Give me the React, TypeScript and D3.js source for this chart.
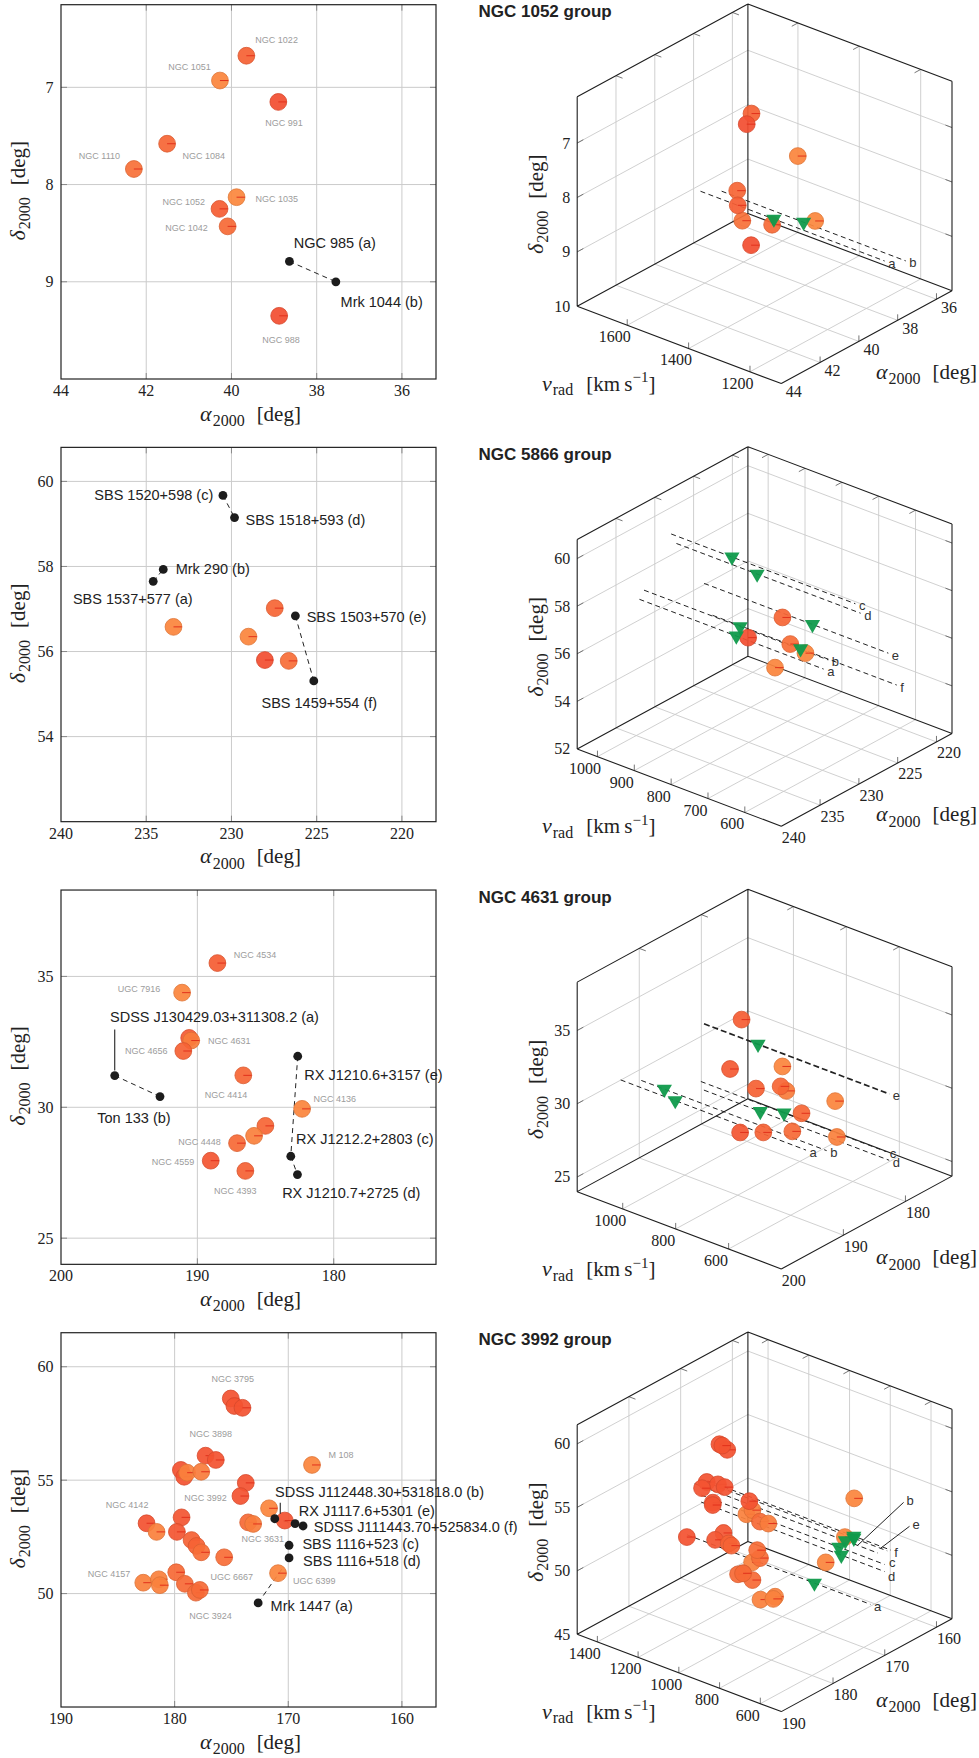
import React from "react";
import * as d3 from "d3";

const SANS = "'Liberation Sans', Arial, Helvetica, sans-serif";
const SERIF = "'Liberation Serif', 'Times New Roman', serif";

// ---------- NGC 1052 group ----------
// name, ra [deg], dec [deg], v_rad [km/s], tone (0 red .. 1 orange)
const g1052Galaxies: [string, number, number, number, number][] = [
  ["NGC 1022", 39.65, 6.675, 1470, 0.35],
  ["NGC 1051", 40.27, 6.93, 1280, 0.8],
  ["NGC 991", 38.9, 7.15, 1533, 0.1],
  ["NGC 1084", 41.51, 7.58, 1399, 0.4],
  ["NGC 1110", 42.29, 7.84, 1333, 0.55],
  ["NGC 1035", 39.88, 8.13, 1248, 0.85],
  ["NGC 1052", 40.28, 8.25, 1475, 0.3],
  ["NGC 1042", 40.09, 8.43, 1375, 0.45],
  ["NGC 988", 38.88, 9.35, 1520, 0.1],
];
// label, key, ra, dec, v_rad
const g1052Dwarfs: [string, string, number, number, number][] = [
  ["NGC 985 (a)", "a", 38.64, 8.79, 1461],
  ["Mrk 1044 (b)", "b", 37.55, 9.0, 1433],
];
const g1052Links = [["a", "b"]];
const g1052RaTicks = [44, 42, 40, 38, 36];
const g1052DecTicks = [7, 8, 9];
const g1052DecTicks3 = [7, 8, 9, 10];
const g1052VTicks = [1600, 1400, 1200];

// ---------- NGC 5866 group ----------
const g5866Galaxies: [string, number, number, number, number][] = [
  ["", 233.4, 56.58, 657, 0.8],
  ["", 227.46, 57.02, 762, 0.4],
  ["", 229.0, 56.35, 667, 0.8],
  ["", 228.04, 55.8, 843, 0.1],
  ["", 226.64, 55.78, 758, 0.5],
];
const g5866Dwarfs: [string, string, number, number, number][] = [
  ["SBS 1537+577 (a)", "a", 234.59, 57.65, 737],
  ["Mrk 290 (b)", "b", 234.0, 57.93, 739],
  ["SBS 1520+598 (c)", "c", 230.5, 59.67, 835],
  ["SBS 1518+593 (d)", "d", 229.82, 59.15, 781],
  ["SBS 1503+570 (e)", "e", 226.25, 56.84, 706],
  ["SBS 1459+554 (f)", "f", 225.17, 55.31, 761],
];
const g5866Links = [["a", "b"], ["c", "d"], ["e", "f"]];
const g5866RaTicks = [240, 235, 230, 225, 220];
const g5866DecTicks = [54, 56, 58, 60];
const g5866DecTicks3 = [52, 54, 56, 58, 60];
const g5866VTicks = [1000, 900, 800, 700, 600];

// ---------- NGC 4631 group ----------
const g4631Galaxies: [string, number, number, number, number][] = [
  ["NGC 4534", 188.53, 35.51, 820, 0.3],
  ["UGC 7916", 191.12, 34.38, 605, 0.8],
  ["", 190.6, 32.65, 815, 0.25],
  ["NGC 4631", 190.45, 32.55, 606, 0.7],
  ["NGC 4656", 191.03, 32.15, 707, 0.35],
  ["NGC 4414", 186.63, 31.22, 717, 0.4],
  ["NGC 4136", 182.32, 29.94, 612, 0.8],
  ["", 185.01, 29.29, 676, 0.4],
  ["", 185.84, 28.91, 523, 0.75],
  ["NGC 4448", 187.09, 28.63, 662, 0.45],
  ["NGC 4559", 189.02, 27.96, 814, 0.2],
  ["NGC 4393", 186.48, 27.57, 786, 0.35],
];
const g4631Dwarfs: [string, string, number, number, number][] = [
  ["SDSS J130429.03+311308.2 (a)", "a", 196.06, 31.21, 894],
  ["Ton 133 (b)", "b", 192.74, 30.41, 1013],
  ["RX J1212.2+2803 (c)", "c", 183.15, 28.13, 786],
  ["RX J1210.7+2725 (d)", "d", 182.66, 27.43, 887],
  ["RX J1210.6+3157 (e)", "e", 182.64, 31.95, 896],
];
const g4631Links = [["a", "b"], ["e", "c"], ["c", "d"]];
const g4631RaTicks = [200, 190, 180];
const g4631DecTicks = [25, 30, 35];
const g4631DecTicks3 = [25, 30, 35];
const g4631VTicks = [1000, 800, 600];

// ---------- NGC 3992 group ----------
const g3992Galaxies: [string, number, number, number, number][] = [
  ["NGC 3795", 175.06, 58.6, 1180, 0.15],
  ["", 174.74, 58.27, 1150, 0.15],
  ["", 174.03, 58.19, 1192, 0.15],
  ["NGC 3898", 177.28, 56.08, 1186, 0.15],
  ["", 176.38, 55.89, 1154, 0.15],
  ["", 179.45, 55.45, 1101, 0.15],
  ["", 179.16, 55.15, 1109, 0.15],
  ["", 178.9, 55.33, 950, 0.75],
  ["", 177.66, 55.37, 952, 0.7],
  ["", 173.74, 54.88, 1188, 0.15],
  ["", 174.21, 54.3, 1287, 0.15],
  ["M 108", 167.91, 55.67, 700, 0.8],
  ["", 171.69, 53.76, 650, 0.8],
  ["NGC 3631", 170.31, 53.22, 1154, 0.15],
  ["", 173.53, 53.14, 1020, 0.45],
  ["", 173.09, 53.07, 990, 0.7],
  ["NGC 4142", 182.47, 53.1, 1152, 0.15],
  ["", 181.59, 52.72, 854, 0.75],
  ["NGC 3992", 179.39, 53.36, 1050, 0.2],
  ["", 179.8, 52.72, 1081, 0.2],
  ["", 178.51, 52.36, 1047, 0.35],
  ["", 178.07, 52.1, 1045, 0.35],
  ["", 177.66, 51.82, 915, 0.5],
  ["UGC 6667", 175.64, 51.6, 980, 0.5],
  ["NGC 4157", 182.76, 50.48, 783, 0.75],
  ["", 181.39, 50.63, 746, 0.75],
  ["", 181.3, 50.37, 757, 0.75],
  ["", 179.86, 50.94, 942, 0.45],
  ["", 179.1, 50.43, 986, 0.45],
  ["NGC 3924", 178.13, 50.04, 940, 0.45],
  ["", 177.78, 50.16, 995, 0.45],
  ["UGC 6399", 170.9, 50.9, 764, 0.8],
];
const g3992Dwarfs: [string, string, number, number, number][] = [
  ["Mrk 1447 (a)", "a", 172.65, 49.59, 775],
  ["SDSS J112448.30+531818.0 (b)", "b", 171.19, 53.3, 660],
  ["SBS 1116+523 (c)", "c", 169.93, 52.13, 724],
  ["SBS 1116+518 (d)", "d", 169.93, 51.57, 712],
  ["RX J1117.6+5301 (e)", "e", 169.4, 53.08, 664],
  ["SDSS J111443.70+525834.0 (f)", "f", 168.7, 52.98, 682],
];
const g3992Links = [["b", "e"], ["e", "f"]];
const g3992ExtraLink: [string, number, number] = ["a", 170.4, 51.2];
const g3992RaTicks = [190, 180, 170, 160];
const g3992DecTicks = [50, 55, 60];
const g3992DecTicks3 = [45, 50, 55, 60];
const g3992VTicks = [1400, 1200, 1000, 800, 600];

// ---------- label placement (pixel offsets from the marker) ----------
const grayPos1052: Record<string, number[]> = {
  "NGC 1022": [9, -13], "NGC 1051": [-51.7, -11], "NGC 991": [-13, 24],
  "NGC 1084": [15.4, 15.4], "NGC 1110": [-55, -10], "NGC 1035": [19, 4.7],
  "NGC 1052": [-57, -4.3], "NGC 1042": [-62.4, 5], "NGC 988": [-17, 26.7],
};
const grayPos4631: Record<string, number[]> = {
  "NGC 4534": [16.4, -5.3], "UGC 7916": [-64.3, -0.4], "NGC 4631": [16.7, 3.3],
  "NGC 4656": [-58.3, 3.3], "NGC 4414": [-38.6, 22.4], "NGC 4136": [11.3, -6.7],
  "NGC 4448": [-58.7, 2], "NGC 4559": [-59, 4], "NGC 4393": [-31.3, 23.3],
};
const grayPos3992: Record<string, number[]> = {
  "NGC 3795": [-19.3, -16], "NGC 3898": [-16, -18.4], "M 108": [16.4, -6.7],
  "NGC 3992": [2.6, -16], "NGC 4142": [-40.7, -15], "NGC 3631": [-43.3, 21],
  "UGC 6667": [-13.6, 23], "NGC 4157": [-55.6, -6], "UGC 6399": [15, 11],
  "NGC 3924": [-6.7, 26.6],
};
// dx, dy, anchor, optional vertical leader [from dy, to dy, x shift]
const dwarfPos1052: Record<string, any[]> = { a: [4.3, -13, "start"], b: [4.7, 25.7, "start"] };
const dwarfPos5866: Record<string, any[]> = {
  a: [39.4, 23, "end"], b: [12.4, 5, "start"], c: [-9.7, 5, "end"],
  d: [11, 7.7, "start"], e: [11.3, 6, "start"], f: [-52.3, 27.3, "start"],
};
const dwarfPos4631: Record<string, any[]> = {
  a: [-4.7, -54, "start", [-5, -46, 0]], b: [-62.7, 26, "start"], c: [5.3, -12.3, "start"],
  d: [-15.3, 23.6, "start"], e: [6.6, 23.7, "start"],
};
const dwarfPos3992: Record<string, any[]> = {
  a: [12.4, 7.7, "start"], b: [0.3, -21.4, "start", [-5, -16, 5.5]], c: [13.4, 3.7, "start"],
  d: [14, 7.7, "start"], e: [3.7, -8, "start"], f: [10.7, 6.3, "start"],
};
const leaders3992: Record<string, number[]> = { b: [600, 46, -43], e: [533, 29, -22] };
const lineLabNudge3992: Record<string, number[]> = { c: [1, -4], d: [0, 3] };

const groups = [
  {
    title: "NGC 1052 group", ra: [44, 35.2], dec: [10, 6.15], v: [1763, 1098], lineV: [1700, 1100],
    raTicks: g1052RaTicks, decTicks: g1052DecTicks, decTicks3: g1052DecTicks3, vTicks: g1052VTicks,
    galaxies: g1052Galaxies, dwarfs: g1052Dwarfs, links: g1052Links, gray: grayPos1052,
    dpos: dwarfPos1052, aLabDy: 13.5, leaders: {} as Record<string, number[]>, extra: null as any,
    bold: [] as string[], nudge: {} as Record<string, number[]>,
  },
  {
    title: "NGC 5866 group", ra: [240, 218], dec: [52, 60.8], v: [1055, 501], lineV: [1000, 500],
    raTicks: g5866RaTicks, decTicks: g5866DecTicks, decTicks3: g5866DecTicks3, vTicks: g5866VTicks,
    galaxies: g5866Galaxies, dwarfs: g5866Dwarfs, links: g5866Links, gray: {} as Record<string, number[]>,
    dpos: dwarfPos5866, aLabDy: 16.5, leaders: {} as Record<string, number[]>, extra: null as any,
    bold: [] as string[], nudge: {} as Record<string, number[]>,
  },
  {
    title: "NGC 4631 group", ra: [200, 172.5], dec: [24, 38.3], v: [1172, 401], lineV: [1100, 400],
    raTicks: g4631RaTicks, decTicks: g4631DecTicks, decTicks3: g4631DecTicks3, vTicks: g4631VTicks,
    galaxies: g4631Galaxies, dwarfs: g4631Dwarfs, links: g4631Links, gray: grayPos4631,
    dpos: dwarfPos4631, aLabDy: 17, leaders: {} as Record<string, number[]>, extra: null as any,
    bold: ["e"], nudge: {} as Record<string, number[]>,
  },
  {
    title: "NGC 3992 group", ra: [190, 157], dec: [45, 61.5], v: [1499, 497], lineV: [1400, 500],
    raTicks: g3992RaTicks, decTicks: g3992DecTicks, decTicks3: g3992DecTicks3, vTicks: g3992VTicks,
    galaxies: g3992Galaxies, dwarfs: g3992Dwarfs, links: g3992Links, gray: grayPos3992,
    dpos: dwarfPos3992, aLabDy: 17, leaders: leaders3992, extra: g3992ExtraLink,
    bold: [] as string[], nudge: lineLabNudge3992,
  },
];

const ROW_PITCH = 442.67;
const TOP0 = 4.7;
const PL = 61, PR = 436, PH = 374.3;
const BX = 577.2, BDY = 301.6;
const RX = 204.1, RY = 77.3, AX = 170.7, AY = -92.8, DY = -209.5;
const RAD = 8.4;
const GRID = "#cbcbcb";
const tone = d3.scaleLinear<string>().domain([0, 1]).range(["#f1472f", "#fd9441"]).interpolate(d3.interpolateRgb);

const seg = (p: number[], q: number[]) => `M${p[0]},${p[1]}L${q[0]},${q[1]}`;

function Galaxy({ x, y, t }: { x: number; y: number; t: number }) {
  const fill = tone(t);
  return (
    <g>
      <circle cx={x} cy={y} r={RAD} fill={fill} fillOpacity={0.93} stroke={d3.color(fill)!.darker(0.35).toString()} strokeWidth={0.8} />
      <line x1={x} y1={y} x2={x + RAD} y2={y} stroke="#e2311c" strokeWidth={1} />
    </g>
  );
}

function DegLabel({ sym, x, y, rot, anchor = "middle" }: any) {
  return (
    <text x={x} y={y} textAnchor={anchor} fontFamily={SERIF} fontSize={21} fill="#222"
      transform={rot ? `rotate(-90 ${x} ${y})` : undefined}>
      <tspan fontStyle="italic" fontSize={22}>{sym}</tspan>
      <tspan fontSize={16} dy={5.5} dx={1}>2000</tspan>
      <tspan dy={-5.5} dx={12}>[deg]</tspan>
    </text>
  );
}

function Panel2D({ g, T }: any) {
  const x = d3.scaleLinear().domain(g.ra).range([PL, PR]);
  const y = d3.scaleLinear().domain(g.dec).range([T + PH, T]);
  const B = T + PH;
  const byKey: Record<string, any> = {};
  g.dwarfs.forEach((d: any) => (byKey[d[1]] = d));
  const xt = g.raTicks.filter((t: number) => x(t) > PL + 1 && x(t) < PR - 1);
  return (
    <g>
      {g.raTicks.map((t: number) => (
        <text key={"xl" + t} x={x(t)} y={B + 17} textAnchor="middle" fontFamily={SERIF} fontSize={16} fill="#222">{t}</text>
      ))}
      {g.decTicks.map((t: number) => (
        <text key={"yl" + t} x={PL - 7.5} y={y(t) + 5.5} textAnchor="end" fontFamily={SERIF} fontSize={16} fill="#222">{t}</text>
      ))}
      {xt.map((t: number) => (
        <g key={"xg" + t}>
          <line x1={x(t)} x2={x(t)} y1={T} y2={B} stroke={GRID} strokeWidth={1} />
          <line x1={x(t)} x2={x(t)} y1={B} y2={B - 6} stroke="#888" strokeWidth={1} />
          <line x1={x(t)} x2={x(t)} y1={T} y2={T + 6} stroke="#888" strokeWidth={1} />
        </g>
      ))}
      {g.decTicks.map((t: number) => (
        <g key={"yg" + t}>
          <line x1={PL} x2={PR} y1={y(t)} y2={y(t)} stroke={GRID} strokeWidth={1} />
          <line x1={PL} x2={PL + 6} y1={y(t)} y2={y(t)} stroke="#888" strokeWidth={1} />
          <line x1={PR} x2={PR - 6} y1={y(t)} y2={y(t)} stroke="#888" strokeWidth={1} />
        </g>
      ))}
      <rect x={PL} y={T} width={PR - PL} height={PH} fill="none" stroke="#222" strokeWidth={1.2} />
      <DegLabel sym="α" x={(PL + PR) / 2 + 2} y={B + 41.5} />
      <DegLabel sym="δ" x={25} y={T + 186} rot />
      {g.links.map(([a, b]: string[]) => (
        <line key={"lk" + a + b} x1={x(byKey[a][2])} y1={y(byKey[a][3])} x2={x(byKey[b][2])} y2={y(byKey[b][3])}
          stroke="#222" strokeWidth={1} strokeDasharray="5,4" />
      ))}
      {g.extra && (
        <line x1={x(byKey[g.extra[0]][2])} y1={y(byKey[g.extra[0]][3])} x2={x(g.extra[1])} y2={y(g.extra[2])}
          stroke="#222" strokeWidth={1} strokeDasharray="5,4" />
      )}
      {g.galaxies.map((d: any, i: number) => (
        <Galaxy key={"g" + i} x={x(d[1])} y={y(d[2])} t={d[4]} />
      ))}
      {g.galaxies.filter((d: any) => g.gray[d[0]]).map((d: any) => (
        <text key={"gl" + d[0]} x={x(d[1]) + g.gray[d[0]][0]} y={y(d[2]) + g.gray[d[0]][1]} fontFamily={SANS} fontSize={9} fill="#9c9c9c">{d[0]}</text>
      ))}
      {g.dwarfs.map((d: any) => {
        const px = x(d[2]), py = y(d[3]);
        const p = g.dpos[d[1]];
        return (
          <g key={"dw" + d[1]}>
            {p[3] && <line x1={px + p[3][2]} x2={px + p[3][2]} y1={py + p[3][0]} y2={py + p[3][1]} stroke="#222" strokeWidth={1.1} />}
            <circle cx={px} cy={py} r={4.4} fill="#1c1c1c" />
            <text x={px + p[0]} y={py + p[1]} textAnchor={p[2]} fontFamily={SANS} fontSize={14.5} fill="#222">{d[0]}</text>
          </g>
        );
      })}
    </g>
  );
}

function Panel3D({ g, T }: any) {
  const ua = d3.scaleLinear().domain(g.ra).range([0, 1]);
  const uv = d3.scaleLinear().domain(g.v).range([0, 1]);
  const ud = d3.scaleLinear().domain(g.dec).range([0, 1]);
  const oy = T + BDY;
  const Q = (a: number, v: number, d: number) => [BX + v * RX + a * AX, oy + v * RY + a * AY + d * DY];
  const P = (ra: number, dec: number, vel: number) => Q(ua(ra), uv(vel), ud(dec));
  const aL = Math.hypot(AX, AY), rL = Math.hypot(RX, RY);
  const an = [AX / aL, AY / aL], rn = [RX / rL, RY / rL];
  const mv = (p: number[], dx: number, dy: number) => [p[0] + dx, p[1] + dy];

  const aT = g.raTicks.map((t: number) => ua(t)).filter((u: number) => u > 0.01 && u < 0.99);
  const vT = g.vTicks.map((t: number) => uv(t)).filter((u: number) => u > 0.01 && u < 0.99);
  const dT = g.decTicks3.map((t: number) => ud(t)).filter((u: number) => u > 0.01 && u < 0.99);

  let grid = "";
  aT.forEach((a: number) => { grid += seg(Q(a, 0, 0), Q(a, 0, 1)) + seg(Q(a, 0, 0), Q(a, 1, 0)); });
  vT.forEach((v: number) => { grid += seg(Q(1, v, 0), Q(1, v, 1)) + seg(Q(0, v, 0), Q(1, v, 0)); });
  dT.forEach((d: number) => { grid += seg(Q(0, 0, d), Q(1, 0, d)) + seg(Q(1, 0, d), Q(1, 1, d)); });

  let ticks = "";
  aT.forEach((a: number) => {
    ticks += seg(Q(a, 1, 0), mv(Q(a, 1, 0), 0, -6));
    ticks += seg(Q(a, 0, 1), mv(Q(a, 0, 1), rn[0] * 7, rn[1] * 7));
  });
  vT.forEach((v: number) => {
    ticks += seg(Q(0, v, 0), mv(Q(0, v, 0), 0, -6));
    ticks += seg(Q(1, v, 1), mv(Q(1, v, 1), -an[0] * 7, -an[1] * 7));
  });
  dT.forEach((d: number) => {
    ticks += seg(Q(0, 0, d), mv(Q(0, 0, d), an[0] * 7, an[1] * 7));
    ticks += seg(Q(1, 1, d), mv(Q(1, 1, d), -rn[0] * 7, -rn[1] * 7));
  });

  const box =
    seg(Q(0, 0, 0), Q(0, 0, 1)) + seg(Q(0, 0, 1), Q(1, 0, 1)) + seg(Q(1, 0, 1), Q(1, 1, 1)) +
    seg(Q(1, 1, 1), Q(1, 1, 0)) + seg(Q(1, 0, 0), Q(1, 0, 1)) + seg(Q(0, 0, 0), Q(0, 1, 0)) +
    seg(Q(0, 1, 0), Q(1, 1, 0)) + seg(Q(0, 0, 0), Q(1, 0, 0)) + seg(Q(1, 0, 0), Q(1, 1, 0));

  const tri = d3.symbol(d3.symbolTriangle, 100)()!;

  return (
    <g>
      <text x={478.5} y={T + 12.5} fontFamily={SANS} fontWeight="bold" fontSize={17} fill="#222">{g.title}</text>
      <path d={grid} stroke={GRID} strokeWidth={0.9} fill="none" />
      <path d={ticks} stroke="#666" strokeWidth={0.9} fill="none" />
      <path d={box} stroke="#1e1e1e" strokeWidth={1.1} fill="none" />
      {g.decTicks3.map((t: number) => {
        const p = Q(0, 0, ud(t));
        return <text key={"dl" + t} x={p[0] - 7} y={p[1] + 5.5} textAnchor="end" fontFamily={SERIF} fontSize={16} fill="#222">{t}</text>;
      })}
      {g.vTicks.map((t: number) => {
        const p = Q(0, uv(t), 0);
        return <text key={"vl" + t} x={p[0] - 12.5} y={p[1] + 17} textAnchor="middle" fontFamily={SERIF} fontSize={16} fill="#222">{t}</text>;
      })}
      {g.raTicks.map((t: number) => {
        const p = Q(ua(t), 1, 0);
        return <text key={"al" + t} x={p[0] + 12.5} y={p[1] + g.aLabDy} textAnchor="middle" fontFamily={SERIF} fontSize={16} fill="#222">{t}</text>;
      })}
      <DegLabel sym="δ" x={543} y={T + 199.5} rot />
      <DegLabel sym="α" x={876} y={T + 374} anchor="start" />
      <text x={542} y={T + 386} fontFamily={SERIF} fontSize={21} fill="#222">
        <tspan fontStyle="italic" fontSize={22}>v</tspan>
        <tspan fontSize={16} dy={4.5} dx={1}>rad</tspan>
        <tspan dy={-4.5} dx={13}>[km{"\u2009"}s</tspan>
        <tspan fontSize={15} dy={-8.5}>{"\u2212"}1</tspan>
        <tspan dy={8.5}>]</tspan>
      </text>
      {g.dwarfs.map((d: any) => {
        const p0 = P(d[2], d[3], g.lineV[0]);
        const p1 = P(d[2], d[3], g.lineV[1]);
        const ld = g.leaders[d[1]];
        const nu = g.nudge[d[1]] || [0, 0];
        let lab = [p1[0] + 3.5 + nu[0], p1[1] + 6.5 + nu[1]];
        let lead = null;
        if (ld) {
          const s = P(d[2], d[3], ld[0]);
          const e = [s[0] + ld[1], s[1] + ld[2]];
          lead = <line x1={s[0]} y1={s[1]} x2={e[0]} y2={e[1]} stroke="#222" strokeWidth={1} />;
          lab = [e[0] + 3, e[1] + 3];
        }
        const heavy = g.bold.includes(d[1]);
        return (
          <g key={"l3" + d[1]}>
            <path d={seg(p0, p1)} stroke="#222" strokeWidth={heavy ? 1.7 : 1} strokeDasharray={heavy ? "6,3" : "5,3.5"} fill="none" />
            {lead}
            <text x={lab[0]} y={lab[1]} fontFamily={SANS} fontSize={13} fill="#333">{d[1]}</text>
          </g>
        );
      })}
      {g.galaxies.map((d: any, i: number) => {
        const p = P(d[1], d[2], d[3]);
        return <Galaxy key={"g3" + i} x={p[0]} y={p[1]} t={d[4]} />;
      })}
      {g.dwarfs.map((d: any) => {
        const p = P(d[2], d[3], d[4]);
        return <path key={"t3" + d[1]} d={tri} transform={`translate(${p[0]},${p[1]}) rotate(180)`} fill="#0f9a4b" fillOpacity={0.95} />;
      })}
    </g>
  );
}

export default function App() {
  return (
    <svg width={979} height={1758} viewBox="0 0 979 1758"
      style={{ position: "absolute", left: 0, top: 0, background: "#fff", display: "block" }}>
      <rect width={979} height={1758} fill="#fff" />
      {groups.map((g, i) => {
        const T = TOP0 + i * ROW_PITCH;
        return (
          <g key={g.title}>
            <Panel3D g={g} T={T} />
            <Panel2D g={g} T={T} />
          </g>
        );
      })}
    </svg>
  );
}
